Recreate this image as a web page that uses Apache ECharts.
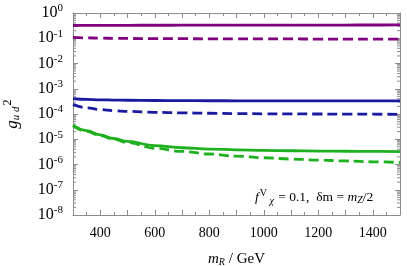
<!DOCTYPE html>
<html><head><meta charset="utf-8">
<script src="https://cdn.jsdelivr.net/npm/echarts@6/dist/echarts.min.js"></script>
<style>html,body{margin:0;padding:0;background:#fff}#c{width:407px;height:266px}</style>
</head><body><div id="c"></div>
<script>
const mR = [300, 350, 400, 450, 500, 600, 700, 800, 900, 1000, 1100, 1200, 1300, 1400, 1500];
const purpleSolid = [0.320, 0.322, 0.324, 0.325, 0.326, 0.327, 0.328, 0.329, 0.330, 0.331, 0.332, 0.333, 0.334, 0.335, 0.336];
const purpleDashed = [0.108, 0.104, 0.101, 0.099, 0.098, 0.097, 0.096, 0.095, 0.095, 0.094, 0.094, 0.093, 0.093, 0.093, 0.092];
const blueSolid = [4.1e-4, 3.8e-4, 3.65e-4, 3.55e-4, 3.5e-4, 3.42e-4, 3.38e-4, 3.35e-4, 3.34e-4, 3.33e-4, 3.32e-4, 3.31e-4, 3.3e-4, 3.3e-4, 3.3e-4];
const blueDashed = [2.4e-4, 1.75e-4, 1.5e-4, 1.35e-4, 1.27e-4, 1.17e-4, 1.11e-4, 1.07e-4, 1.04e-4, 1.02e-4, 1.01e-4, 1.0e-4, 0.99e-4, 0.98e-4, 0.97e-4];
const greenSolid = [3.6e-5, 2.2e-5, 1.5e-5, 1.07e-5, 8.2e-6, 5.6e-6, 4.6e-6, 4.1e-6, 3.8e-6, 3.6e-6, 3.5e-6, 3.4e-6, 3.35e-6, 3.3e-6, 3.25e-6];
const greenDashed = [3.4e-5, 2.05e-5, 1.4e-5, 1.0e-5, 7.4e-6, 4.4e-6, 3.3e-6, 2.6e-6, 2.15e-6, 1.85e-6, 1.65e-6, 1.5e-6, 1.38e-6, 1.28e-6, 1.2e-6];
const xTickLabels = [400, 600, 800, 1000, 1200, 1400];
const yExponents = [0, -1, -2, -3, -4, -5, -6, -7, -8];

const PURPLE = '#800080', BLUE = '#1a1aa0', GREEN = '#1fb01f', FRAME = '#8c8c8c';
const SERIF = '"Liberation Serif", "DejaVu Serif", serif';

const minorVals = [];
for (let k = -8; k < 0; k++) for (let m = 2; m <= 9; m++) minorVals.push([mR[0], m * Math.pow(10, k)]);

function pairs(ys) { return mR.map((x, i) => [x, ys[i]]); }
function line(ys, color, dashed) {
  return { type: 'line', data: pairs(ys), symbol: 'none', smooth: 0.4, smoothMonotone: 'x',
    lineStyle: { color, width: 2.8, type: dashed ? [10, 5] : 'solid' }, z: 3, silent: true };
}

const xBase = {
  type: 'value', min: 300, max: 1500, interval: 100,
  axisLine: { show: true, onZero: false, lineStyle: { color: FRAME, width: 1 } },
  axisTick: { show: true, inside: true, length: 5, lineStyle: { color: FRAME } },
  minorTick: { show: true, splitNumber: 2, length: 3, lineStyle: { color: FRAME } },
  splitLine: { show: false }
};
const yBase = {
  type: 'log', logBase: 10, min: 1e-8, max: 1, interval: 1,
  axisLine: { show: true, onZero: false, lineStyle: { color: FRAME, width: 1 } },
  axisTick: { show: true, inside: true, length: 5, lineStyle: { color: FRAME } },
  splitLine: { show: false }
};

const chart = echarts.init(document.getElementById('c'));
chart.setOption({
  animation: false,
  backgroundColor: '#fff',
  grid: { left: 73, right: 7, top: 13, bottom: 51, containLabel: false, outerBoundsMode: 'none' },
  xAxis: [
    Object.assign({}, xBase, {
      position: 'bottom',
      axisLabel: { show: true, margin: 11, color: '#000', fontFamily: SERIF, fontSize: 14,
        formatter: v => xTickLabels.indexOf(v) >= 0 ? String(v) : '' },
      name: '{i|m}{sub|R}{t| / GeV}', nameLocation: 'middle', nameGap: 36,
      nameTextStyle: { rich: {
        i: { fontFamily: SERIF, fontStyle: 'italic', fontSize: 15, color: '#000' },
        sub: { fontFamily: SERIF, fontStyle: 'italic', fontSize: 10, color: '#000', padding: [6, 0, 0, 0] },
        t: { fontFamily: SERIF, fontSize: 15, color: '#000' } } }
    }),
    Object.assign({}, xBase, { position: 'top', axisLabel: { show: false } })
  ],
  yAxis: [
    Object.assign({}, yBase, {
      position: 'left',
      axisLabel: { show: true, margin: 10, fontFamily: SERIF, color: '#000',
        formatter: v => { const e = Math.round(Math.log10(v)); return yExponents.indexOf(e) >= 0 ? '{b|10}{s|' + e + '}' : ''; },
        rich: {
          b: { fontFamily: SERIF, fontSize: 16, color: '#000' },
          s: { fontFamily: SERIF, fontSize: 11, color: '#000', padding: [0, 0, 9, 0] } } },
      name: '{g|g}{sub|u d}{sup|2}', nameLocation: 'middle', nameGap: 49, nameRotate: 90,
      nameTextStyle: { rich: {
        g: { fontFamily: SERIF, fontStyle: 'italic', fontSize: 17, color: '#000' },
        sub: { fontFamily: SERIF, fontStyle: 'italic', fontSize: 11, color: '#000', padding: [7, 0, 0, 0] },
        sup: { fontFamily: SERIF, fontSize: 12, color: '#000', padding: [0, 0, 10, 1] } } }
    }),
    Object.assign({}, yBase, { position: 'right', axisLabel: { show: false } })
  ],
  graphic: [{
    type: 'text', left: 255, top: 188, silent: true,
    style: {
      text: '{i|f}{sup|V}{sub| χ}{t| = 0.1,  δm = }{i|m}{sub2|Z}{t|/2}',
      rich: {
        i: { fontFamily: SERIF, fontStyle: 'italic', fontSize: 13.5, fill: '#000' },
        t: { fontFamily: SERIF, fontSize: 13.5, fill: '#000' },
        sup: { fontFamily: SERIF, fontSize: 10, fill: '#000', padding: [0, 0, 9, 1] },
        sub: { fontFamily: SERIF, fontStyle: 'italic', fontSize: 10, fill: '#000', padding: [8, 1, 0, 0] },
        sub2: { fontFamily: SERIF, fontStyle: 'italic', fontSize: 10, fill: '#000', padding: [5, 0, 0, 0] }
      }
    }
  }],
  series: [
    {
      type: 'custom', silent: true, z: 1, data: minorVals, encode: { x: 0, y: 1 },
      renderItem: (params, api) => {
        const v = api.value(1);
        const pL = api.coord([300, v]);
        const pR = api.coord([1500, v]);
        const st = { stroke: FRAME, lineWidth: 1 };
        return { type: 'group', children: [
          { type: 'line', shape: { x1: pL[0], y1: pL[1], x2: pL[0] + 3, y2: pL[1] }, style: st },
          { type: 'line', shape: { x1: pR[0], y1: pR[1], x2: pR[0] - 3, y2: pR[1] }, style: st }
        ] };
      }
    },
    line(purpleSolid, PURPLE, false),
    line(purpleDashed, PURPLE, true),
    line(blueSolid, BLUE, false),
    line(blueDashed, BLUE, true),
    line(greenSolid, GREEN, false),
    line(greenDashed, GREEN, true)
  ]
});
</script></body></html>
